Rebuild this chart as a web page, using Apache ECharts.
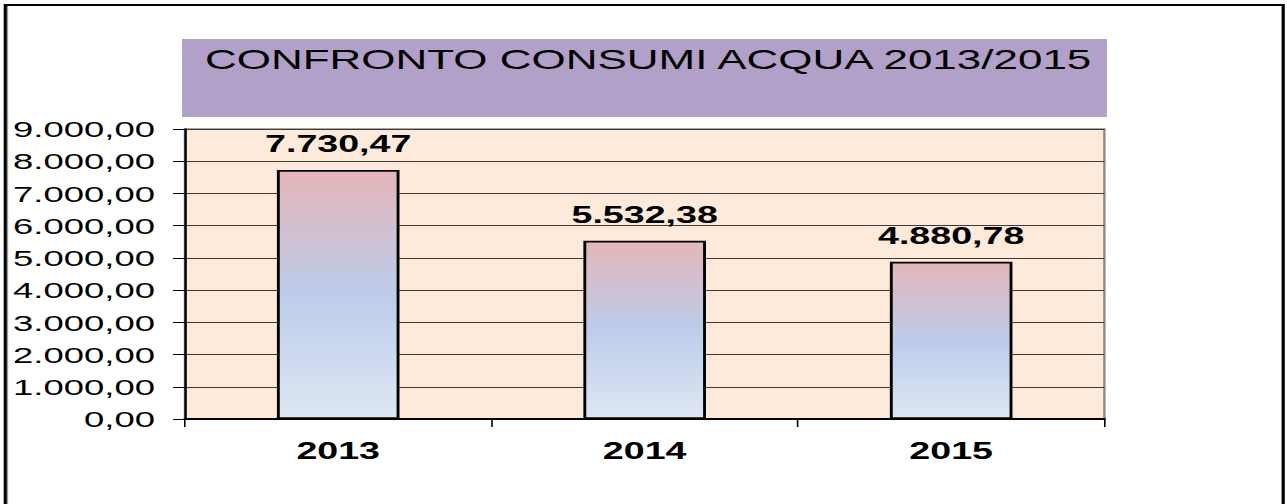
<!DOCTYPE html>
<html>
<head>
<meta charset="utf-8">
<script src="https://cdn.jsdelivr.net/npm/echarts@6/dist/echarts.min.js"></script>
<style>
  html, body { margin: 0; padding: 0; background: #ffffff; overflow: hidden; }
  #wrap { width: 1287px; height: 504px; overflow: hidden; }
  /* the chart is laid out narrow and widened horizontally */
  #chart { width: 804.375px; height: 504px; transform: scaleX(1.6); transform-origin: 0 0; }
</style>
</head>
<body>
<div id="wrap"><div id="chart"></div></div>
<script>
// Annual water consumption
const years = ['2013', '2014', '2015'];
const consumi = [7730.47, 5532.38, 4880.78];
const titleText = 'CONFRONTO CONSUMI ACQUA 2013/2015';

const FONT = '"Liberation Sans", Arial, sans-serif';

// Italian number format: 7.730,47
function fmtIt(v) {
  const neg = v < 0;
  const parts = Math.abs(v).toFixed(2).split('.');
  const intPart = parts[0].replace(/\B(?=(\d{3})+(?!\d))/g, '.');
  return (neg ? '-' : '') + intPart + ',' + parts[1];
}

const chart = echarts.init(document.getElementById('chart'), null, { renderer: 'svg' });

chart.setOption({
  animation: false,
  backgroundColor: '#ffffff',
  grid: {
    left: 115.6,
    right: 113.75,
    top: 129,
    bottom: 85,
    show: true,
    backgroundColor: '#FDEADA',
    borderColor: '#8a8a8a',
    borderWidth: 1.5
  },
  graphic: [
    // outer frame
    {
      type: 'rect',
      shape: { x: 3.3, y: 5, width: 798.7, height: 530 },
      style: { fill: null, stroke: '#000000', lineWidth: 2 },
      silent: true
    },
    {
      type: 'line',
      shape: { x1: 4.7, y1: 6, x2: 4.7, y2: 510 },
      style: { stroke: '#9a9a9a', lineWidth: 0.8 },
      silent: true
    },
    // title band
    {
      type: 'rect',
      shape: { x: 113.75, y: 39, width: 578.1, height: 78 },
      style: { fill: '#B1A0C7' },
      silent: true
    },
    {
      type: 'text',
      x: 128.1,
      y: 60,
      style: {
        text: titleText,
        fill: '#000000',
        font: 'normal 27.5px ' + FONT,
        textAlign: 'left',
        textVerticalAlign: 'middle'
      },
      silent: true
    }
  ],
  xAxis: {
    type: 'category',
    data: years,
    boundaryGap: true,
    axisLine: { show: true, lineStyle: { color: '#000000', width: 2 } },
    axisTick: { show: true, alignWithLabel: false, length: 8, lineStyle: { color: '#000000', width: 1 } },
    axisLabel: {
      color: '#000000',
      fontFamily: FONT,
      fontWeight: 'bold',
      fontSize: 23.5,
      margin: 20
    },
    splitLine: { show: false }
  },
  yAxis: {
    type: 'value',
    min: 0,
    max: 9000,
    interval: 1000,
    axisLine: { show: true, lineStyle: { color: '#000000', width: 1.5 } },
    axisTick: { show: true, inside: false, length: 7.5, lineStyle: { color: '#000000', width: 1 } },
    axisLabel: {
      color: '#000000',
      fontFamily: FONT,
      fontSize: 22.8,
      margin: 18.75,
      formatter: fmtIt
    },
    splitLine: { show: true, lineStyle: { color: '#3a3a3a', width: 1 } }
  },
  series: [
    {
      type: 'bar',
      data: consumi,
      barWidth: '40%',
      itemStyle: {
        borderColor: '#000000',
        borderWidth: 1.8,
        color: new echarts.graphic.LinearGradient(0, 0, 0, 1, [
          { offset: 0, color: '#E4B6B9' },
          { offset: 0.5, color: '#BCCCEA' },
          { offset: 1, color: '#DEE6F3' }
        ])
      },
      label: {
        show: true,
        position: 'top',
        distance: 14,
        color: '#000000',
        fontFamily: FONT,
        fontWeight: 'bold',
        fontSize: 23.5,
        formatter: p => fmtIt(p.value)
      }
    }
  ]
});
</script>
</body>
</html>
